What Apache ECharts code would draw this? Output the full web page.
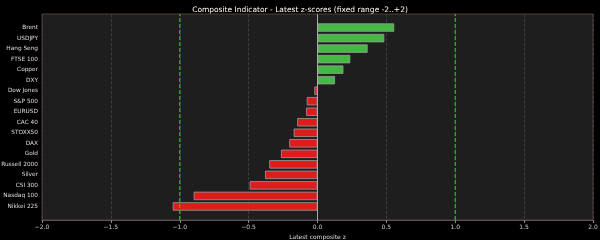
<!DOCTYPE html>
<html>
<head>
<meta charset="utf-8">
<script src="https://cdn.jsdelivr.net/npm/echarts@6/dist/echarts.min.js"></script>
<style>
html, body { margin: 0; padding: 0; background: #000; }
#chart { width: 600px; height: 240px; }
</style>
</head>
<body>
<div id="chart"></div>
<script>
// data
var names = ['Brent', 'USDJPY', 'Hang Seng', 'FTSE 100', 'Copper', 'DXY', 'Dow Jones', 'S&P 500', 'EURUSD',
	'CAC 40', 'STOXX50', 'DAX', 'Gold', 'Russell 2000', 'Silver', 'CSI 300', 'Nasdaq 100', 'Nikkei 225'];
var zScores = [0.557, 0.485, 0.364, 0.238, 0.188, 0.127, -0.023, -0.078, -0.083,
	-0.147, -0.173, -0.205, -0.265, -0.35, -0.381, -0.492, -0.899, -1.051];
var xTicks = [-2, -1.5, -1, -0.5, 0, 0.5, 1, 1.5, 2];
var refLines = [-1, 1];

var chart = echarts.init(document.getElementById('chart'));

var font = 'DejaVu Sans';
// frame grid and inner band grid (matplotlib margins)
var frameTop = 14, frameBottom = 20, left = 42, right = 7;
var pad = 8.3;

var barData = zScores.map(function (v) {
	return {
		value: v,
		itemStyle: {
			color: v >= 0 ? 'rgba(72,200,72,0.92)' : 'rgba(240,28,28,0.92)',
			borderColor: '#9a9a9a',
			borderWidth: 0.8
		}
	};
});

// vertical line spanning the whole frame (y axis of frame grid is 0..1)
function vline(x, color, type, w) {
	return {
		type: 'line', xAxisIndex: 0, yAxisIndex: 0, silent: true,
		symbol: 'none', z: 3,
		lineStyle: { color: color, type: type, width: w },
		data: [[x, 0], [x, 1]]
	};
}

var series = [
	{
		type: 'bar', xAxisIndex: 1, yAxisIndex: 1,
		data: barData, barWidth: '80%', z: 2
	},
	vline(0, '#aaa', 'solid', 1)
];
refLines.forEach(function (x) { series.push(vline(x, '#22c022', [4, 2], 1.2)); });

option = {
	backgroundColor: '#000',
	animation: false,
	title: {
		text: 'Composite Indicator - Latest z-scores (fixed range -2..+2)',
		left: 'center',
		top: 1,
		textStyle: { color: '#fff', fontSize: 7.5, fontWeight: 'normal', fontFamily: font }
	},
	grid: [
		{ left: left, right: right, top: frameTop, bottom: frameBottom, show: true, outerBoundsMode: 'none',
			backgroundColor: '#1e1e1e', borderColor: '#5a3d3d', borderWidth: 1 },
		{ left: left, right: right, top: frameTop + pad, bottom: frameBottom + pad, outerBoundsMode: 'none' }
	],
	xAxis: [
		{
			gridIndex: 0, type: 'value', min: -2, max: 2, interval: 0.5,
			name: 'Latest composite z', nameLocation: 'middle', nameGap: 12,
			nameTextStyle: { color: '#ddd', fontSize: 6, fontFamily: font },
			axisLine: { show: true, lineStyle: { color: '#555' } },
			axisTick: { show: true, length: 3, lineStyle: { color: '#888' } },
			axisLabel: { color: '#ccc', fontSize: 6, fontFamily: font, margin: 4,
				formatter: function (v) { return v < 0 ? '\u2212' + Math.abs(v).toFixed(1) : v.toFixed(1); } },
			splitLine: { show: true, lineStyle: { color: '#444', type: 'dashed', width: 0.8 } }
		},
		{
			gridIndex: 1, type: 'value', min: -2, max: 2, show: false,
			splitLine: { show: false }
		}
	],
	yAxis: [
		{ gridIndex: 0, type: 'value', min: 0, max: 1, show: false, splitLine: { show: false } },
		{
			gridIndex: 1, type: 'category', data: names, inverse: true,
			axisLine: { show: false },
			axisTick: { show: false },
			axisLabel: { color: '#ddd', fontSize: 5.8, fontFamily: font, margin: 4 }
		}
	],
	series: series
};

chart.setOption(option);
</script>
</body>
</html>
